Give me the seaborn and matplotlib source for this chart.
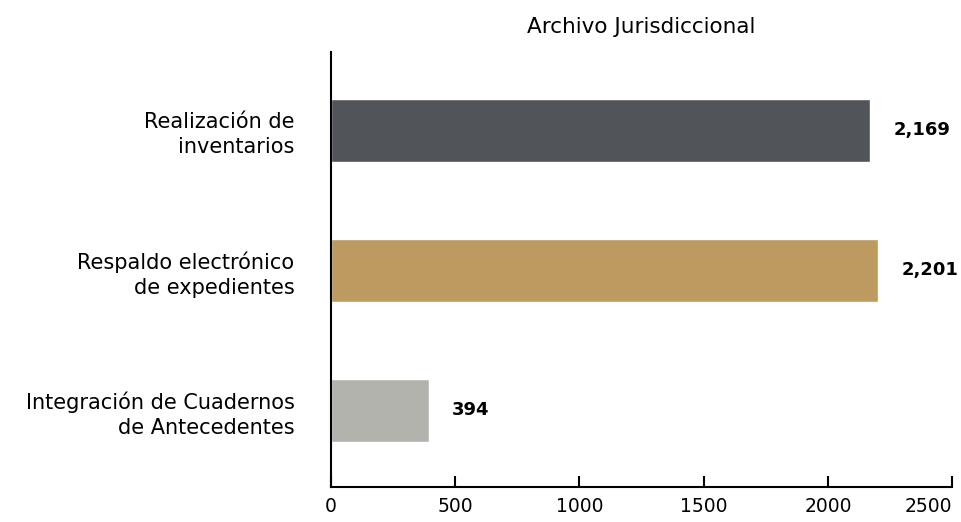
import matplotlib
matplotlib.use("Agg")
import matplotlib.pyplot as plt
import seaborn as sns
import pandas as pd

# datos
categorias = ["Realización de\ninventarios",
              "Respaldo electrónico\nde expedientes",
              "Integración de Cuadernos\nde Antecedentes"]
valores = [2169, 2201, 394]
etiquetas = ["2,169", "2,201", "394"]
colores = ["#515459", "#BC9A60", "#B3B3AE"]
ticks_x = [0, 500, 1000, 1500, 2000, 2500]

sns.set_theme(style="white")
plt.rcParams["font.family"] = ["DejaVu Sans"]

df = pd.DataFrame({"categoria": categorias, "valor": valores})

fig = plt.figure(figsize=(9.61, 5.22), dpi=100)
ax = fig.add_axes([0.344, 0.067, 0.647, 0.833])

sns.barplot(data=df, x="valor", y="categoria", hue="categoria",
            palette=colores, orient="h", width=0.45, legend=False, ax=ax,
            saturation=1)

for i, (v, t) in enumerate(zip(valores, etiquetas)):
    ax.annotate(t, (v, i), xytext=(17, 0), textcoords="offset points",
                va="center", ha="left", fontsize=13, fontweight="bold",
                color="black")

ax.set_xlim(0, 2500)
ax.set_ylim(2.55, -0.557)
ax.set_xticks(ticks_x)
ax.set_xlabel("")
ax.set_ylabel("")
ax.tick_params(axis="x", bottom=True, direction="in", length=8, width=1.5,
               labelsize=13.5, colors="black", pad=7)
ax.tick_params(axis="y", left=False, length=0, labelsize=15,
               labelcolor="black", pad=26)
for lbl in ax.get_yticklabels():
    lbl.set_horizontalalignment("right")
    lbl.set_multialignment("right")
    lbl.set_linespacing(1.3)
xl = ax.get_xticklabels()
xl[-1].set_horizontalalignment("right")

sns.despine(ax=ax)
for s in ["left", "bottom"]:
    ax.spines[s].set_color("black")
    ax.spines[s].set_linewidth(1.5)

ax.set_title("Archivo Jurisdiccional", fontsize=15.5, color="black", pad=14)

fig.savefig("out.png", dpi=100)
